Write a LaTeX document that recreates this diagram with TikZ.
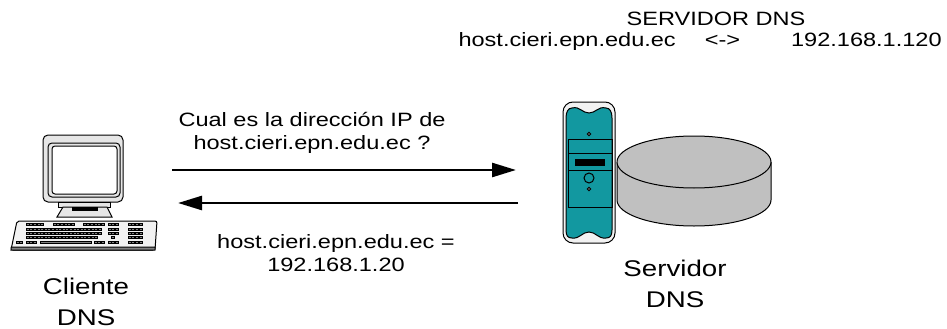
\documentclass[tikz,border=0pt]{standalone}
\usepackage{fontspec}
\setmainfont{Liberation Sans}[FakeStretch=1.22]
\usepackage{color}
\usetikzlibrary{arrows.meta,positioning}
\definecolor{tealbox}{RGB}{18,152,160}
\definecolor{diskgray}{RGB}{192,192,192}
\definecolor{lgray}{RGB}{230,230,230}
\definecolor{pale}{RGB}{242,242,242}
\tikzset{every picture/.style={line width=1pt}}
\tikzstyle{lbl}=[align=center,inner sep=0pt,font=\fontsize{19.3}{23}\selectfont]
\tikzstyle{big}=[align=center,inner sep=0pt,font=\fontsize{22.7}{31.5}\selectfont]
\tikzstyle{msg}=[line width=2.6pt,-{Triangle[length=24pt,width=14pt]}]
\newcommand{\keyrow}[3]{\foreach \k in {1,...,#3}{\draw[fill=gray,line width=0.3pt] (#1+3.6*\k-3.6,#2) rectangle ++(3,2.6);}}

\begin{document}
\begin{tikzpicture}[x=1pt,y=-1pt]
\useasboundingbox (0,0) rectangle (947,329);
\node[lbl] (T) at (716,19) {SERVIDOR DNS};
\node[lbl,anchor=west] (H) at (458,42) {host.cieri.epn.edu.ec\hspace{29pt}<->\hspace{51pt}192.168.1.120};
\node[lbl] (Q) at (312,133) {Cual es la dirección IP de\\host.cieri.epn.edu.ec ?};
\node[lbl] (R) at (336,253) {host.cieri.epn.edu.ec =\\192.168.1.20};
\node[big] (C) at (86,302) {Cliente\\DNS};
\node[big] (S) at (675,284) {Servidor\\DNS};
\coordinate (q1) at (172,170);
\coordinate (q2) at (516,170);
\coordinate (r1) at (518,203);
\coordinate (r2) at (178,203);
\draw[msg] (q1) -- (q2);
\draw[msg] (r1) -- (r2);
% monitor
\draw[fill=lgray,rounded corners=5] (43,135) rectangle (123,202);
\draw[fill=lgray,rounded corners=4] (48,143) rectangle (120,197);
\draw[fill=white,rounded corners=3] (52,146) rectangle (117,194);
\draw[fill=lgray] (58,202) rectangle (110,207);
\draw[fill=lgray] (63,207) -- (107,207) -- (112,217) -- (57,217) -- cycle;
\fill (72,207) rectangle (98,211);
% keyboard
\draw[fill=pale,rounded corners=2] (17,221) -- (157,221) -- (155,250) -- (11,250) -- cycle;
\draw[fill=gray] (11.3,247) -- (155.2,247) -- (155,250) -- (11,250) -- cycle;
\keyrow{26}{223}{5} \keyrow{53}{223}{6} \keyrow{83}{223}{6} \keyrow{108}{223}{3} \keyrow{128}{223}{4}
\keyrow{26}{228}{21} \keyrow{108}{228}{3} \keyrow{128}{228}{4}
\keyrow{26}{232}{21} \keyrow{108}{232}{3} \keyrow{128}{232}{4}
\keyrow{26}{236}{20} \keyrow{111.6}{236}{1} \keyrow{128}{236}{4}
\keyrow{16}{241}{2} \keyrow{26}{241}{3} \keyrow{94}{241}{3} \keyrow{108}{241}{3} \keyrow{128}{241}{4}
\draw[fill=gray,line width=0.3pt] (40,241) rectangle (91,243.6);
% disk
\draw[fill=diskgray] (617,162) -- (617,200) arc[start angle=180,end angle=360,x radius=77pt,y radius=26pt] -- (771,162);
\draw[fill=diskgray] (694,162) ellipse[x radius=77pt,y radius=26pt];
% tower
\draw[fill=pale,rounded corners=10] (563,102) rectangle (615,243);
\draw[fill=tealbox] (566,118) -- (566,230) .. controls (566,236) and (568,238) .. (572,238)
  .. controls (580,239) and (582,232) .. (589,232) .. controls (596,232) and (598,239) .. (606,238)
  .. controls (610,238) and (612,236) .. (612,230) -- (612,118)
  .. controls (612,112) and (610,108) .. (606,108) .. controls (598,106) and (596,113) .. (589,113)
  .. controls (582,113) and (580,106) .. (572,108) .. controls (568,108) and (566,112) .. (566,118);
\draw (568,139) rectangle (612,207);
\draw (568,153) -- (612,153);
\draw (568,170) -- (612,170);
\fill (575,159) rectangle (605,166);
\draw (589,178) circle (5pt);
\draw[fill=white] (589,134) circle (1.6pt);
\draw[fill=white] (589,189) circle (1.6pt);
\end{tikzpicture}
\end{document}
